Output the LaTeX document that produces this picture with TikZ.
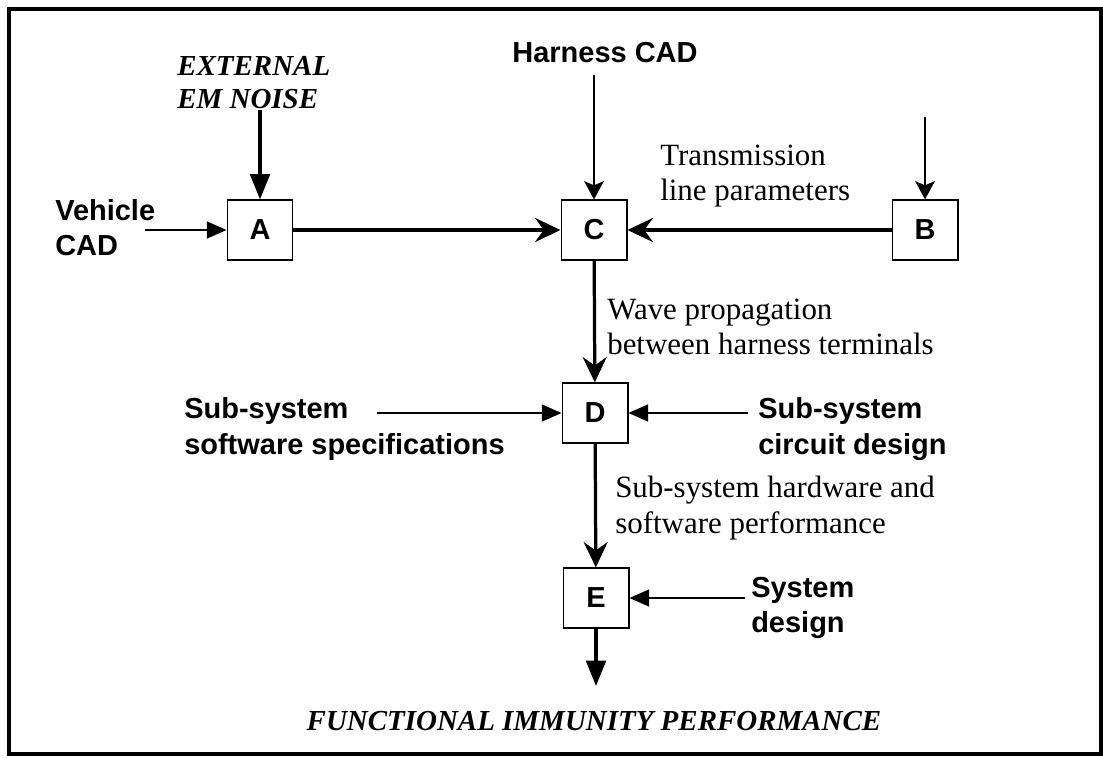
\documentclass[tikz,border=0pt]{standalone}
\usepackage{fontspec}
\setmainfont{Liberation Serif}
\setsansfont{Liberation Sans}
\usetikzlibrary{arrows.meta}

\tikzset{
  box/.style={draw, line width=1.4pt, minimum width=1.625cm, minimum height=1.48cm,
    inner sep=0pt, font=\sffamily\bfseries\fontsize{20.6}{24}\selectfont},
  inlab/.style={align=left, inner sep=0pt, font=\sffamily\bfseries\fontsize{20.6}{25}\selectfont},
  note/.style={align=left, inner sep=0pt, font=\fontsize{22}{25}\selectfont},
  title/.style={align=left, inner sep=0pt, font=\bfseries\itshape\fontsize{20.6}{23.5}\selectfont},
  flow/.style={line width=2.3pt, -{Stealth[length=18pt,width=17pt,inset=6pt]}},
  bigflow/.style={line width=2.3pt, -{Triangle[length=18pt,width=14pt]}},
  feed/.style={line width=1.4pt, -{Triangle[length=14pt,width=12pt]}},
  feedc/.style={line width=1.4pt, -{Stealth[length=13pt,width=14pt,inset=3pt]}},
}

\begin{document}
\begin{tikzpicture}[x=0.025cm,y=-0.025cm]
	\useasboundingbox (0,0) rectangle (1103,757);
	\draw[line width=2.4pt] (9,9) rectangle (1101,754);
	% blocks
	\node[box] (A) at (260,230) {A};
	\node[box] (C) at (594,230) {C};
	\node[box] (B) at (925,230) {B};
	\node[box] (D) at (595,413) {D};
	\node[box] (E) at (596,598) {E};
	% inputs
	\node[title, anchor=west] (noise) at (177,83) {EXTERNAL\\EM NOISE};
	\node[inlab, anchor=west] (vehicle) at (55,228) {Vehicle\\CAD};
	\node[inlab] (harness) at (605,53) {Harness CAD};
	\node[inlab, anchor=west] (swspec) at (184,429) {Sub-system\\software specifications};
	\node[inlab, anchor=west] (circuit) at (758,429) {Sub-system\\circuit design};
	\node[inlab, anchor=west] (sysdes) at (751,608) {System\\design};
	\coordinate (vin) at (145,230);
	\coordinate (bin) at (925,117);
	\coordinate (swin) at (377,413);
	\coordinate (out) at (596,686);
	% flow labels
	\node[note, anchor=west] (trans) at (660,176) {Transmission\\line parameters};
	\node[note, anchor=west] (wave) at (607,327) {Wave propagation\\between harness terminals};
	\node[note, anchor=west] (hwperf) at (615,508) {Sub-system hardware and\\software performance};
	\node[title] (func) at (594,721) {FUNCTIONAL IMMUNITY PERFORMANCE};
	% connectors
	\draw[bigflow] (noise.south -| A) -- (A);
	\draw[feed] (vin) -- (A);
	\draw[feedc, shorten <=8pt] (harness.south -| C) -- (C);
	\draw[feedc] (bin) -- (B);
	\draw[flow] (A) -- (C);
	\draw[flow] (B) -- (C);
	\draw[flow] (C) -- (D);
	\draw[feed] (swin) -- (D);
	\draw[feed] ([xshift=-7pt]circuit.west |- D) -- (D);
	\draw[flow] (D) -- (E);
	\draw[feed] ([xshift=-4pt]sysdes.west |- E) -- (E);
	\draw[bigflow] (E) -- (out);
\end{tikzpicture}
\end{document}
